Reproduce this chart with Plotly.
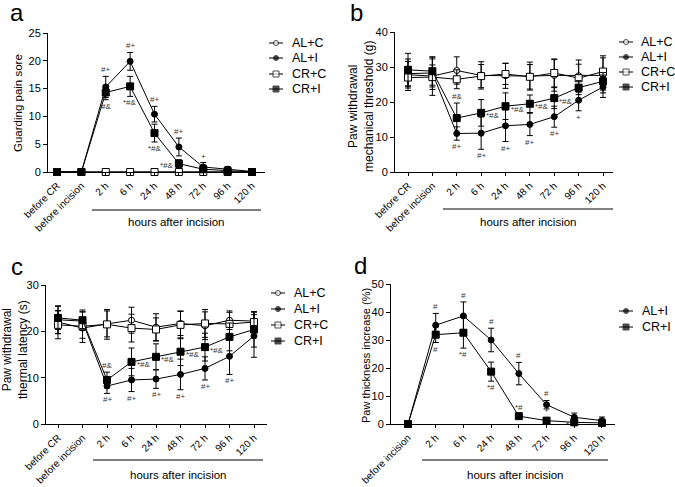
import plotly.graph_objects as go

W, H = 675, 487
FONT = "Liberation Sans, Arial, sans-serif"

# ---------------- data ----------------
cats_full = ["before CR", "before incision", "2 h", "6 h", "24 h", "48 h", "72 h", "96 h", "120 h"]
cats_d = ["before incision", "2 h", "6 h", "24 h", "48 h", "72 h", "96 h", "120 h"]
series_names = ["AL+C", "AL+I", "CR+C", "CR+I"]

# a: Guarding pain score
a_alc = [0, 0, 0, 0, 0, 0, 0, 0, 0]
a_ali = [0, 0, 15.3, 19.9, 10.4, 4.5, 0.9, 0.5, 0.1]
a_crc = [0, 0, 0, 0, 0, 0, 0, 0, 0]
a_cri = [0, 0, 14.3, 15.4, 7.0, 1.5, 0.5, 0.2, 0.0]
a_alc_err = [0, 0, 0, 0, 0, 0, 0, 0, 0]
a_ali_err = [0, 0, 1.9, 1.6, 1.4, 1.6, 0.8, 0.5, 0.2]
a_crc_err = [0, 0, 0, 0, 0, 0, 0, 0, 0]
a_cri_err = [0, 0, 1.3, 1.8, 1.6, 0.7, 0.4, 0.3, 0.1]

# b: mechanical threshold
b_alc = [27.8, 27.4, 29.0, 27.6, 27.5, 27.4, 27.6, 27.5, 27.6]
b_ali = [28.1, 28.3, 11.0, 11.1, 13.2, 13.6, 15.8, 20.5, 24.3]
b_crc = [27.0, 27.1, 26.5, 27.4, 28.0, 27.2, 28.3, 26.8, 28.7]
b_cri = [29.2, 28.8, 15.4, 16.9, 18.8, 19.5, 21.1, 24.1, 25.9]
b_alc_err = [4.5, 5.5, 3.9, 3.9, 3.6, 4.0, 4.5, 4.5, 5.0]
b_ali_err = [3.5, 4.0, 1.9, 4.6, 4.5, 3.2, 3.0, 3.0, 3.0]
b_crc_err = [3.0, 3.5, 2.7, 3.3, 3.0, 3.5, 4.0, 4.0, 4.5]
b_cri_err = [4.7, 4.0, 4.3, 3.8, 3.8, 2.5, 3.0, 2.0, 2.5]

# c: thermal latency
c_alc = [22.0, 20.7, 21.6, 22.4, 20.9, 21.7, 21.2, 22.4, 22.2]
c_ali = [22.5, 22.2, 8.2, 9.5, 9.7, 10.7, 12.0, 14.6, 19.0]
c_crc = [21.4, 21.1, 21.5, 20.7, 20.4, 21.4, 21.7, 21.6, 22.0]
c_cri = [22.9, 22.4, 9.5, 13.4, 14.5, 15.6, 16.6, 18.8, 20.4]
c_alc_err = [2.5, 2.2, 2.8, 2.8, 2.9, 2.6, 3.0, 2.0, 2.0]
c_ali_err = [3.0, 2.0, 1.6, 2.5, 2.0, 3.3, 2.5, 3.9, 4.6]
c_crc_err = [3.0, 3.5, 3.2, 3.0, 2.5, 3.0, 3.0, 2.5, 2.2]
c_cri_err = [2.5, 1.8, 1.7, 3.0, 2.8, 3.0, 3.0, 3.0, 3.8]

# d: paw thickness increase
d_ali = [0, 35.3, 38.6, 30.0, 18.0, 6.9, 2.4, 1.2]
d_cri = [0, 31.9, 32.6, 18.7, 2.8, 1.2, 0.6, 0.4]
d_ali_err = [0, 4.2, 5.0, 4.2, 4.0, 1.5, 1.5, 1.3]
d_cri_err = [0, 2.8, 5.5, 3.4, 0.8, 0.8, 0.5, 0.4]

# significance labels: (series, category index, text, placement)
a_sig = [("AL+I", 2, "#+", "above"), ("AL+I", 3, "#+", "above"), ("AL+I", 4, "#+", "above"),
         ("AL+I", 5, "#+", "above"), ("AL+I", 6, "+", "above"),
         ("CR+I", 2, "#&", "below"), ("CR+I", 3, "*#&", "below"), ("CR+I", 4, "*#&", "below"),
         ("CR+I", 5, "*#&", "left")]
b_sig = [("CR+I", 2, "#&", "above"), ("AL+I", 2, "#+", "below"), ("AL+I", 3, "#+", "below"),
         ("AL+I", 4, "#+", "below"), ("AL+I", 5, "#+", "below"), ("AL+I", 6, "#+", "below"),
         ("AL+I", 7, "+", "below"),
         ("CR+I", 3, "*#&", "right"), ("CR+I", 4, "*#&", "right"), ("CR+I", 5, "*#&", "right"),
         ("CR+I", 6, "*#&", "right")]
c_sig = [("CR+I", 2, "#&", "above"), ("AL+I", 2, "#+", "below"), ("AL+I", 3, "#+", "below"),
         ("AL+I", 4, "#+", "below"), ("AL+I", 5, "#+", "below"), ("AL+I", 6, "#+", "below"),
         ("AL+I", 7, "#+", "below"),
         ("CR+I", 3, "*#&", "right"), ("CR+I", 4, "*#&", "right"), ("CR+I", 5, "*#&", "right"),
         ("CR+I", 6, "*#&", "right")]
d_sig = [("AL+I", 1, "#", "above"), ("AL+I", 2, "#", "above"), ("AL+I", 3, "#", "above"),
         ("AL+I", 4, "#", "above"), ("AL+I", 5, "#", "above"),
         ("CR+I", 1, "#", "below"), ("CR+I", 2, "*#", "below"), ("CR+I", 3, "*#", "below"),
         ("CR+I", 4, "*#", "above"), ("CR+I", 5, "*", "above"), ("CR+I", 6, "*", "left")]

# ---------------- styling ----------------
STYLE = {
    "AL+C": dict(symbol="circle", size=6, color="white"),
    "AL+I": dict(symbol="circle", size=6, color="black"),
    "CR+C": dict(symbol="square", size=7, color="white"),
    "CR+I": dict(symbol="square", size=7, color="black"),
}
FS = 11  # y tick text size
FSX = 10  # x tick text size


def X(px):
    return px / W


def Y(py):
    return 1 - py / H


fig = go.Figure()

panels = [
    dict(cats=cats_full,
         data={"AL+C": a_alc, "AL+I": a_ali, "CR+C": a_crc, "CR+I": a_cri},
         err={"AL+C": a_alc_err, "AL+I": a_ali_err, "CR+C": a_crc_err, "CR+I": a_cri_err},
         xd=(48, 265), yd=(172, 33), c0=57, step=24.375, yr=25, dt=5, sig=a_sig,
         leg=(276, 290, [43, 58, 74, 89])),
    dict(cats=cats_full,
         data={"AL+C": b_alc, "AL+I": b_ali, "CR+C": b_crc, "CR+I": b_cri},
         err={"AL+C": b_alc_err, "AL+I": b_ali_err, "CR+C": b_crc_err, "CR+I": b_cri_err},
         xd=(395, 613), yd=(172, 32), c0=408, step=24.375, yr=40, dt=10, sig=b_sig,
         leg=(626, 639, [42, 57, 72, 87])),
    dict(cats=cats_full,
         data={"AL+C": c_alc, "AL+I": c_ali, "CR+C": c_crc, "CR+I": c_cri},
         err={"AL+C": c_alc_err, "AL+I": c_ali_err, "CR+C": c_crc_err, "CR+I": c_cri_err},
         xd=(46, 267), yd=(424, 285), c0=58, step=24.5, yr=30, dt=10, sig=c_sig,
         leg=(278, 292, [293, 309, 325, 341])),
    dict(cats=cats_d,
         data={"AL+I": d_ali, "CR+I": d_cri},
         err={"AL+I": d_ali_err, "CR+I": d_cri_err},
         xd=(391, 615), yd=(424, 284), c0=408, step=27.71, yr=50, dt=10, sig=d_sig,
         leg=(626, 640, [311, 327])),
]

annotations = []
shapes = []
layout_axes = {}

for i, p in enumerate(panels):
    n = i + 1
    xa = "x" if n == 1 else f"x{n}"
    ya = "y" if n == 1 else f"y{n}"
    xs = list(range(len(p["cats"])))
    for name in series_names:
        if name not in p["data"]:
            continue
        st = STYLE[name]
        fig.add_trace(go.Scatter(
            x=xs, y=p["data"][name], name=name, mode="lines+markers",
            xaxis=xa, yaxis=ya, showlegend=False, cliponaxis=False,
            line=dict(color="black", width=1),
            marker=dict(symbol=st["symbol"], size=st["size"], color=st["color"],
                        line=dict(color="black", width=1)),
            error_y=dict(type="data", array=p["err"][name], visible=True,
                         color="black", thickness=1, width=3),
        ))
    lo = (p["xd"][0] - p["c0"]) / p["step"]
    hi = (p["xd"][1] - p["c0"]) / p["step"]
    axis_common = dict(showline=True, linecolor="black", linewidth=1, ticks="outside",
                       tickwidth=1, tickcolor="black", showgrid=False,
                       zeroline=False, automargin=False)
    layout_axes["xaxis" if n == 1 else f"xaxis{n}"] = dict(
        domain=[X(p["xd"][0]), X(p["xd"][1])], anchor=ya, range=[lo, hi],
        tickmode="array", tickvals=xs, ticktext=p["cats"], tickangle=-45, ticklen=3,
        tickfont=dict(family=FONT, size=FSX, color="black"), **axis_common)
    layout_axes["yaxis" if n == 1 else f"yaxis{n}"] = dict(
        domain=[Y(p["yd"][0]), Y(p["yd"][1])], anchor=xa, range=[0, p["yr"]],
        dtick=p["dt"], tick0=0, ticklen=4,
        tickfont=dict(family=FONT, size=FS, color="black"), **axis_common)

    # significance markers
    for (ser, idx, txt, pos) in p["sig"]:
        v = p["data"][ser][idx]
        e = p["err"][ser][idx]
        a = dict(xref=xa, yref=ya, x=idx, text=txt, showarrow=False,
                 font=dict(family=FONT, size=8, color="#333333"))
        if pos == "above":
            a.update(y=v + e, yanchor="bottom", xanchor="center")
        elif pos == "below":
            a.update(y=v - e, yanchor="top", xanchor="center")
        elif pos == "right":
            a.update(y=v, yanchor="middle", xanchor="left", xshift=3, yshift=-3)
        else:
            a.update(y=v, yanchor="middle", xanchor="right", xshift=-3, yshift=-2)
        annotations.append(a)

# ---- legends (drawn on a full-figure overlay axis in pixel units) ----
layout_axes["xaxis5"] = dict(domain=[0, 1], range=[0, W], visible=False, anchor="y5",
                             fixedrange=True)
layout_axes["yaxis5"] = dict(domain=[0, 1], range=[H, 0], visible=False, anchor="x5",
                             fixedrange=True)
for p in panels:
    mx, tx, ys = p["leg"]
    names = [s for s in series_names if s in p["data"]]
    for name, yy in zip(names, ys):
        st = STYLE[name]
        fig.add_trace(go.Scatter(
            x=[mx - 7, mx, mx + 7], y=[yy, yy, yy], mode="lines+markers",
            xaxis="x5", yaxis="y5", showlegend=False, cliponaxis=False, hoverinfo="skip",
            line=dict(color="black", width=1),
            marker=dict(symbol=st["symbol"], size=[0, st["size"] - 1, 0], color=st["color"],
                        line=dict(color="black", width=1)),
        ))
        annotations.append(dict(xref="paper", yref="paper", x=X(tx), y=Y(yy), text=name,
                                showarrow=False, xanchor="left", yanchor="middle",
                                font=dict(family=FONT, size=12.5, color="black")))

# brackets "hours after incision"
brackets = [((92, 261), 210, 222), ((443, 613), 209, 222), ((93, 263), 460, 475),
            ((422, 608), 460, 475)]
for (x0, x1), yl, yt in brackets:
    shapes.append(dict(type="line", xref="paper", yref="paper", x0=X(x0), x1=X(x1),
                       y0=Y(yl), y1=Y(yl), line=dict(color="black", width=1)))
    annotations.append(dict(xref="paper", yref="paper", x=X((x0 + x1) / 2), y=Y(yt),
                            text="hours after incision", showarrow=False,
                            xanchor="center", yanchor="middle",
                            font=dict(family=FONT, size=11.5, color="black")))

# y axis titles
ytitles = [("Guarding pain sore", 18, 103, 11.5),
           ("Paw withdrawal<br>mechanical threshold (g)", 361, 107, 12),
           ("Paw withdrawal<br>thermal latency (s)", 15, 350, 12),
           ("Paw thickness increase (%)", 366, 356, 11)]
for txt, px, py, fs in ytitles:
    annotations.append(dict(xref="paper", yref="paper", x=X(px), y=Y(py), text=txt,
                            textangle=-90, showarrow=False, xanchor="center", yanchor="middle",
                            font=dict(family=FONT, size=fs, color="black")))

# panel letters
for txt, px, py in [("a", 17, 12), ("b", 356, 12), ("c", 17, 266), ("d", 360, 265)]:
    annotations.append(dict(xref="paper", yref="paper", x=X(px), y=Y(py), text=txt,
                            showarrow=False, xanchor="center", yanchor="middle",
                            font=dict(family=FONT, size=24, color="black")))

fig.update_layout(
    width=W, height=H, margin=dict(l=0, r=0, t=0, b=0, autoexpand=False),
    paper_bgcolor="white", plot_bgcolor="rgba(0,0,0,0)", showlegend=False,
    font=dict(family=FONT, color="black"),
    annotations=annotations, shapes=shapes,
    **layout_axes,
)

fig.write_html("out.html", config={"displayModeBar": False},
               post_script="document.body.style.margin='0px';document.body.style.overflow='hidden';")
